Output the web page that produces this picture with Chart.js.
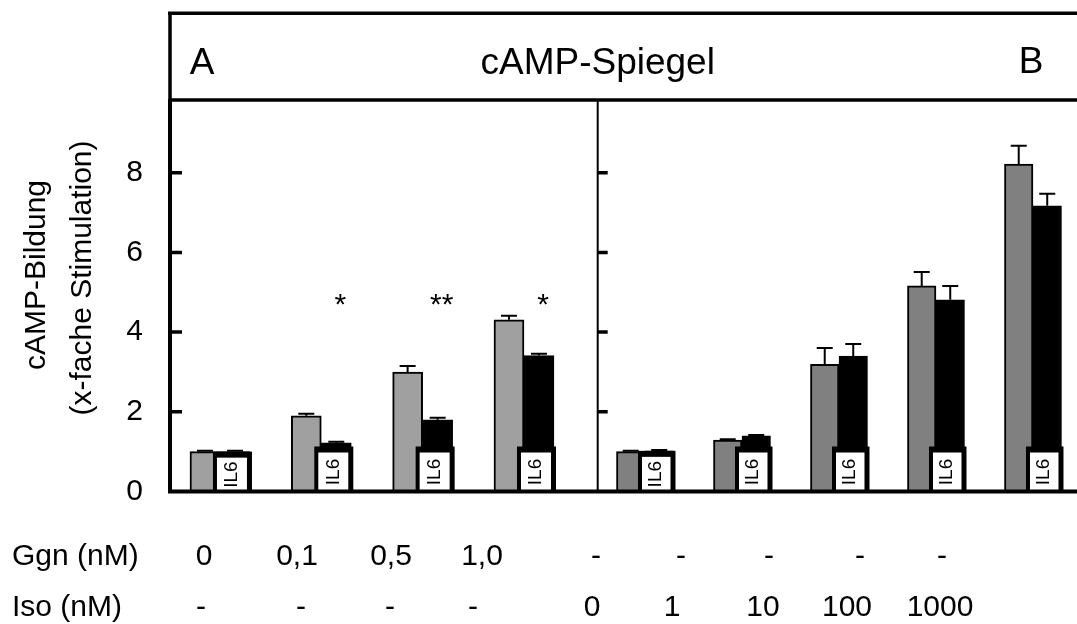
<!DOCTYPE html>
<html>
<head>
<meta charset="utf-8">
<title>cAMP-Spiegel</title>
<script src="https://cdn.jsdelivr.net/npm/chart.js@4.4.0/dist/chart.umd.min.js"></script>
<style>
  html, body { margin: 0; padding: 0; background: #fff; overflow: hidden; }
  #wrap { width: 1077px; height: 624px; overflow: hidden; }
</style>
</head>
<body>
<div id="wrap"><canvas id="myChart" width="1100" height="624"></canvas></div>
<script>
'use strict';
// panel A: Glucagon (nM), control vs IL6
const ggnLabels = ['0', '0,1', '0,5', '1,0'];
const aControl = [1.0, 1.9, 3.0, 4.31];
const aControlErr = [0.02, 0.05, 0.15, 0.10];
const aIl6 = [1.0, 1.22, 1.8, 3.41];
const aIl6Err = [0.02, 0.03, 0.05, 0.05];
const aStars = ['', '*', '**', '*'];

// panel B: Isoproterenol (nM), control vs IL6
const isoLabels = ['0', '1', '10', '100', '1000'];
const bControl = [1.0, 1.29, 3.19, 5.16, 8.22];
const bControlErr = [0.02, 0.02, 0.41, 0.35, 0.46];
const bIl6 = [1.02, 1.4, 3.4, 4.81, 7.17];
const bIl6Err = [0.02, 0.02, 0.30, 0.35, 0.30];

const yTicks = [0, 2, 4, 6, 8];

// rows under the chart
const ggnRow = ggnLabels.concat(['-', '-', '-', '-', '-']);
const isoRow = ['-', '-', '-', '-'].concat(isoLabels);

// layout stuff
const FONT = "'Liberation Sans', Arial, sans-serif";
const dividerX = 597.7;
const ggnX = [204, 297, 391, 482, 596, 681, 769, 860, 942];
const isoX = [201, 301, 390, 473, 592, 672, 763, 847, 940];
const barA = 30, barB = 28.5;         // bar thickness px
const shiftA = 0.148, shiftB = 0.147;  // half a bar, in group units

Chart.defaults.font.family = FONT;
Chart.defaults.color = '#000';

function pts(vals, shift) {
  return vals.map((v, i) => ({x: i + shift, y: v}));
}

function text(c, str, x, y, size, align, baseline) {
  c.font = size + 'px ' + FONT;
  c.fillStyle = '#000';
  c.textAlign = align || 'center';
  c.textBaseline = baseline || 'alphabetic';
  c.fillText(str, x, y);
}

function drawIl6Box(c, left, right, top, base) {
  const boxTop = Math.max(top, base - 45);
  c.fillStyle = '#000';
  c.fillRect(left - 7, boxTop, right - left + 9, base - boxTop);
  c.fillStyle = '#fff';
  c.fillRect(left - 3, boxTop + 6, right - left, base - boxTop - 6);
  c.save();
  c.translate(left - 3 + (right - left) / 2, boxTop + 6 + (base - boxTop - 6) / 2);
  c.rotate(-Math.PI / 2);
  text(c, 'IL6', 0, 0, 19, 'center', 'middle');
  c.restore();
}

const panelPlugin = {
  id: 'panel',
  afterDatasetsDraw(chart) {
    const c = chart.ctx;
    const area = chart.chartArea;
    const y = chart.scales.y;
    const base = y.getPixelForValue(0);
    c.save();

    chart.data.datasets.forEach((ds, di) => {
      const meta = chart.getDatasetMeta(di);
      meta.data.forEach((bar, i) => {
        const half = bar.width / 2;
        // error bar, upper half only
        const top = y.getPixelForValue(ds.data[i].y + ds.err[i]);
        c.strokeStyle = '#000';
        c.lineWidth = 2;
        c.beginPath();
        c.moveTo(bar.x, bar.y);
        c.lineTo(bar.x, top);
        c.moveTo(bar.x - 8, top);
        c.lineTo(bar.x + 8, top);
        c.stroke();
        if (ds.il6) {
          drawIl6Box(c, bar.x - half, bar.x + half, bar.y, base);
        }
        if (ds.stars && ds.stars[i]) {
          text(c, ds.stars[i], bar.x + 4, y.getPixelForValue(4.88) + 17, 30, 'center');
        }
      });
    });

    // frame
    c.strokeStyle = '#000';
    c.lineWidth = 3.5;
    c.beginPath();
    c.moveTo(area.left - 2, 13.3);
    c.lineTo(area.right + 10, 13.3);
    c.moveTo(area.left, 11.5);
    c.lineTo(area.left, area.top);
    c.moveTo(area.left, area.top - 1);
    c.lineTo(area.right + 10, area.top - 1);
    c.stroke();
    c.lineWidth = 4;
    c.beginPath();
    c.moveTo(area.left - 2, base);
    c.lineTo(area.right + 10, base);
    c.stroke();
    c.lineWidth = 2;
    c.beginPath();
    c.moveTo(dividerX, area.top);
    c.lineTo(dividerX, base);
    c.stroke();

    // inward ticks on the axis and on the divider
    c.lineWidth = 3.5;
    c.beginPath();
    yTicks.slice(1).forEach(t => {
      const py = y.getPixelForValue(t);
      c.moveTo(area.left, py);
      c.lineTo(area.left + 12, py);
      c.moveTo(dividerX, py);
      c.lineTo(dividerX + 10, py);
    });
    c.stroke();

    // header
    text(c, 'A', 202, 74, 37, 'center');
    text(c, 'cAMP-Spiegel', dividerX, 74, 37, 'center');
    text(c, 'B', 1031, 73, 37, 'center');

    // y title, two lines
    c.save();
    c.translate(37, 275);
    c.rotate(-Math.PI / 2);
    text(c, 'cAMP-Bildung', 0, 0, 30, 'center', 'middle');
    c.restore();
    c.save();
    c.translate(83, 278);
    c.rotate(-Math.PI / 2);
    text(c, '(x-fache Stimulation)', 0, 0, 30, 'center', 'middle');
    c.restore();

    // treatment rows
    text(c, 'Ggn (nM)', 12, 565, 30, 'left');
    text(c, 'Iso (nM)', 12, 616, 30, 'left');
    ggnRow.forEach((s, i) => text(c, s, ggnX[i], 565, 30, 'center'));
    isoRow.forEach((s, i) => text(c, s, isoX[i], 616, 30, 'center'));

    c.restore();
  }
};

const ctx = document.getElementById('myChart').getContext('2d');
new Chart(ctx, {
  type: 'bar',
  data: {
    datasets: [
      {label: 'Ggn', data: pts(aControl, -shiftA), err: aControlErr, xAxisID: 'xA',
        backgroundColor: '#a0a0a0', borderColor: '#000', borderWidth: 2,
        grouped: false, barThickness: barA},
      {label: 'Ggn + IL6', data: pts(aIl6, shiftA), err: aIl6Err, xAxisID: 'xA', il6: true, stars: aStars,
        backgroundColor: '#000', borderColor: '#000', borderWidth: 2,
        grouped: false, barThickness: barA},
      {label: 'Iso', data: pts(bControl, -shiftB), err: bControlErr, xAxisID: 'xB',
        backgroundColor: '#808080', borderColor: '#000', borderWidth: 2,
        grouped: false, barThickness: barB},
      {label: 'Iso + IL6', data: pts(bIl6, shiftB), err: bIl6Err, xAxisID: 'xB', il6: true,
        backgroundColor: '#000', borderColor: '#000', borderWidth: 2,
        grouped: false, barThickness: barB}
    ]
  },
  options: {
    responsive: false,
    animation: false,
    layout: {padding: {top: 101, bottom: 132.5, left: 0, right: 0}},
    plugins: {legend: {display: false}, tooltip: {enabled: false}},
    scales: {
      xA: {type: 'linear', display: false, offset: false, min: -0.493, max: 8.684,
        ticks: {stepSize: 1, includeBounds: false}},
      xB: {type: 'linear', display: false, offset: false, min: -4.897, max: 4.691,
        ticks: {stepSize: 1, includeBounds: false}},
      y: {
        min: 0, max: 9.8,
        afterFit: function(scale) { scale.width = 170; },
        grid: {display: false, drawTicks: false},
        border: {width: 4, color: '#000'},
        ticks: {stepSize: 2, includeBounds: false, padding: 27, font: {size: 30}, color: '#000'}
      }
    }
  },
  plugins: [panelPlugin]
});
</script>
</body>
</html>
